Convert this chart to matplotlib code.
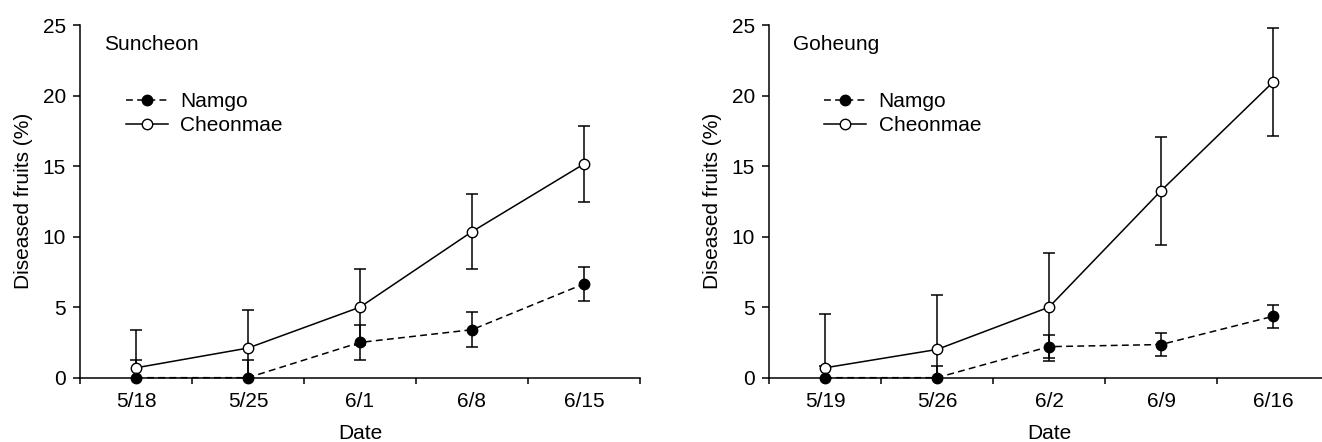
import matplotlib
matplotlib.use("Agg")
import matplotlib.pyplot as plt

plt.rcParams['font.family'] = ['Liberation Sans', 'DejaVu Sans']

## Data
dates_s = ['5/18', '5/25', '6/1', '6/8', '6/15']
namgo_s = [0, 0, 2.5, 3.4, 6.65]
namgo_s_err = [1.25, 1.25, 1.22, 1.23, 1.22]
cheon_s = [0.7, 2.1, 5.0, 10.35, 15.15]
cheon_s_err = [2.68, 2.68, 2.68, 2.68, 2.68]

dates_g = ['5/19', '5/26', '6/2', '6/9', '6/16']
namgo_g = [0, 0, 2.2, 2.35, 4.35]
namgo_g_err = [0.83, 0.83, 0.83, 0.83, 0.83]
cheon_g = [0.7, 2.0, 5.0, 13.25, 20.95]
cheon_g_err = [3.8, 3.85, 3.82, 3.83, 3.82]

FS = 15


def draw_panel(ax, title, dates, namgo, namgo_err, cheon, cheon_err, leg_x):
    x = list(range(len(dates)))
    # error bars (clipped at the axis), markers drawn on top without clipping
    ax.errorbar(x, cheon, yerr=cheon_err, fmt='none', ecolor='black',
                elinewidth=1.1, capsize=4.5, capthick=1.1, zorder=2)
    ax.errorbar(x, namgo, yerr=namgo_err, fmt='none', ecolor='black',
                elinewidth=1.1, capsize=4.5, capthick=1.1, zorder=3)
    ax.plot(x, cheon, '-', color='black', lw=1.1, marker='o', ms=7.5,
            mfc='white', mec='black', mew=1.0, label='Cheonmae',
            clip_on=False, zorder=4)
    ax.plot(x, namgo, '--', color='black', lw=1.1, dashes=(4.5, 2.8),
            marker='o', ms=7.5, mfc='black', mec='black', mew=1.0,
            label='Namgo', clip_on=False, zorder=5)

    ax.set_xlim(-0.5, 4.5)
    ax.set_ylim(0, 25)
    ax.set_yticks([0, 5, 10, 15, 20, 25])
    # ticks at boundaries, labels centred between them
    ax.set_xticks([i - 0.5 for i in range(len(dates) + 1)])
    ax.set_xticklabels([])
    ax.set_xticks(x, minor=True)
    ax.set_xticklabels(dates, minor=True, fontsize=FS)
    ax.tick_params(axis='x', which='major', direction='out', length=4.5, width=1.1)
    ax.tick_params(axis='x', which='minor', length=0, pad=10)
    ax.tick_params(axis='y', direction='out', length=5, width=1.1, labelsize=FS, pad=5)

    for s in ['top', 'right']:
        ax.spines[s].set_visible(False)
    for s in ['left', 'bottom']:
        ax.spines[s].set_linewidth(1.1)

    ax.set_xlabel('Date', fontsize=FS, labelpad=10)
    ax.set_ylabel('Diseased fruits (%)', fontsize=FS, labelpad=7)
    ax.text(0.043, 0.945, title, transform=ax.transAxes, fontsize=FS,
            ha='left', va='center')

    h, l = ax.get_legend_handles_labels()
    ax.legend(h[::-1], l[::-1], loc='upper left', bbox_to_anchor=(leg_x, 0.81),
              frameon=False, fontsize=FS, handlelength=2.0, handletextpad=0.6,
              labelspacing=0.25, borderpad=0, borderaxespad=0)


fig = plt.figure(figsize=(13.22, 4.42), dpi=100)
ax1 = fig.add_axes([0.0605, 0.1455, 0.4236, 0.7979])
ax2 = fig.add_axes([0.5817, 0.1455, 0.4236, 0.7979])

draw_panel(ax1, 'Suncheon', dates_s, namgo_s, namgo_s_err, cheon_s, cheon_s_err, 0.082)
draw_panel(ax2, 'Goheung', dates_g, namgo_g, namgo_g_err, cheon_g, cheon_g_err, 0.099)

fig.savefig('out.png', dpi=100)
